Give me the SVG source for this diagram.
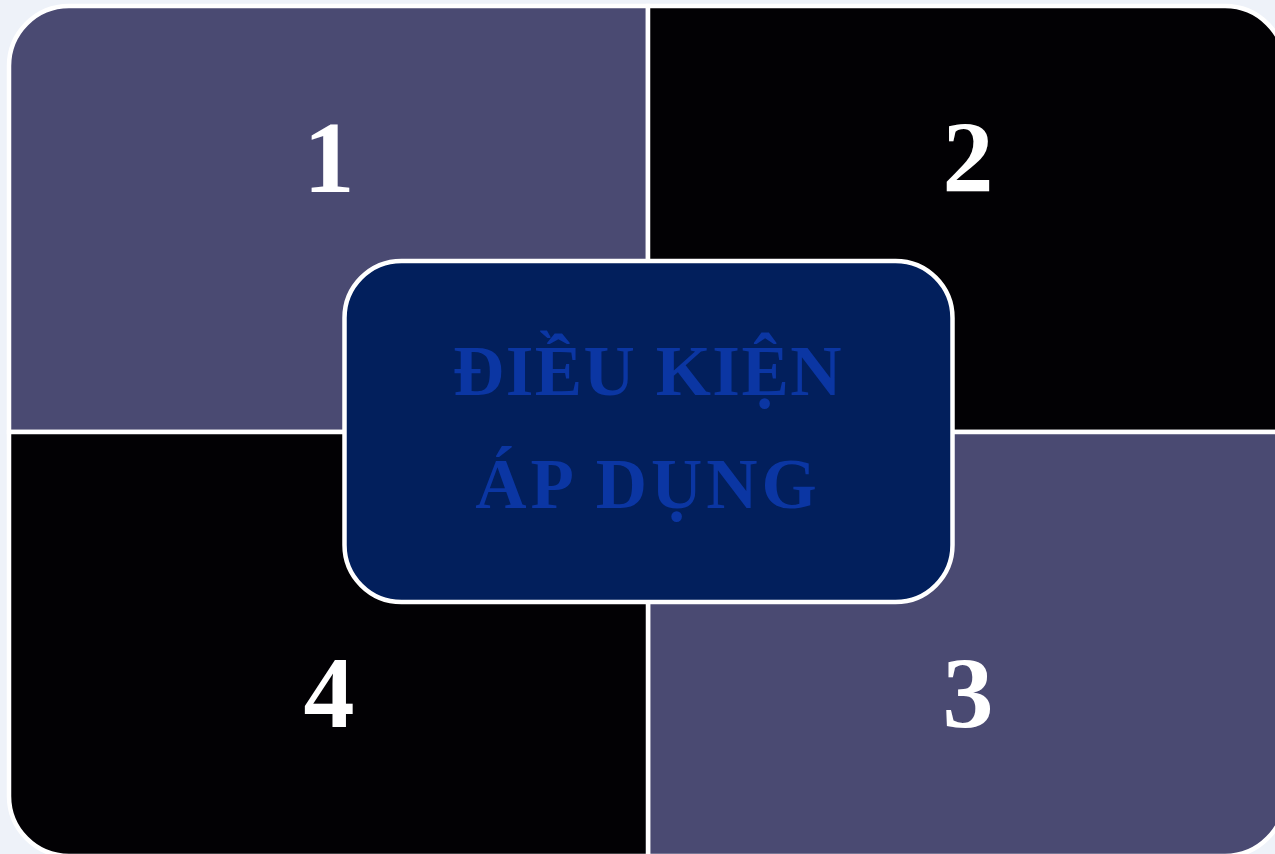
<svg xmlns="http://www.w3.org/2000/svg" width="1275" height="854" viewBox="0 0 1275 854">
<style>
.q{stroke:#ffffff;stroke-width:4.5;stroke-linejoin:miter}
.qa{fill:#4a4a72}
.qb{fill:#020104}
.num{font-family:"Liberation Serif","DejaVu Serif",serif;font-weight:bold;font-size:102px;fill:#ffffff;text-anchor:middle}
.title{font-family:"Liberation Serif","DejaVu Serif",serif;font-weight:bold;font-size:71px;fill:#0b36a3;text-anchor:middle;letter-spacing:1.5px}
</style>
<rect x="0" y="0" width="1275" height="854" fill="#eef2f9"/>
<g id="q1"><path class="q qa" d="M9,66 A60,60 0 0 1 69,6 L648,6 L648,432 L9,432 Z"/><text class="num" x="329" y="192">1</text></g>
<g id="q2"><path class="q qb" d="M648,6 L1225,6 A60,60 0 0 1 1285,66 L1285,432 L648,432 Z"/><text class="num" x="968" y="192">2</text></g>
<g id="q3"><path class="q qa" d="M648,432 L1285,432 L1285,796 A60,60 0 0 1 1225,856 L648,856 Z"/><text class="num" x="968" y="728">3</text></g>
<g id="q4"><path class="q qb" d="M9,432 L648,432 L648,856 L69,856 A60,60 0 0 1 9,796 Z"/><text class="num" x="329" y="727">4</text></g>
<g id="center"><rect x="344.5" y="261" width="608" height="341" rx="57" ry="57" fill="#021f5c" stroke="#ffffff" stroke-width="4.5"/>
<text class="title" x="648" y="395">ĐIỀU KIỆN</text>
<text class="title" x="648" y="508" style="letter-spacing:4px">ÁP DỤNG</text></g>
<g id="connectors"></g>
</svg>
